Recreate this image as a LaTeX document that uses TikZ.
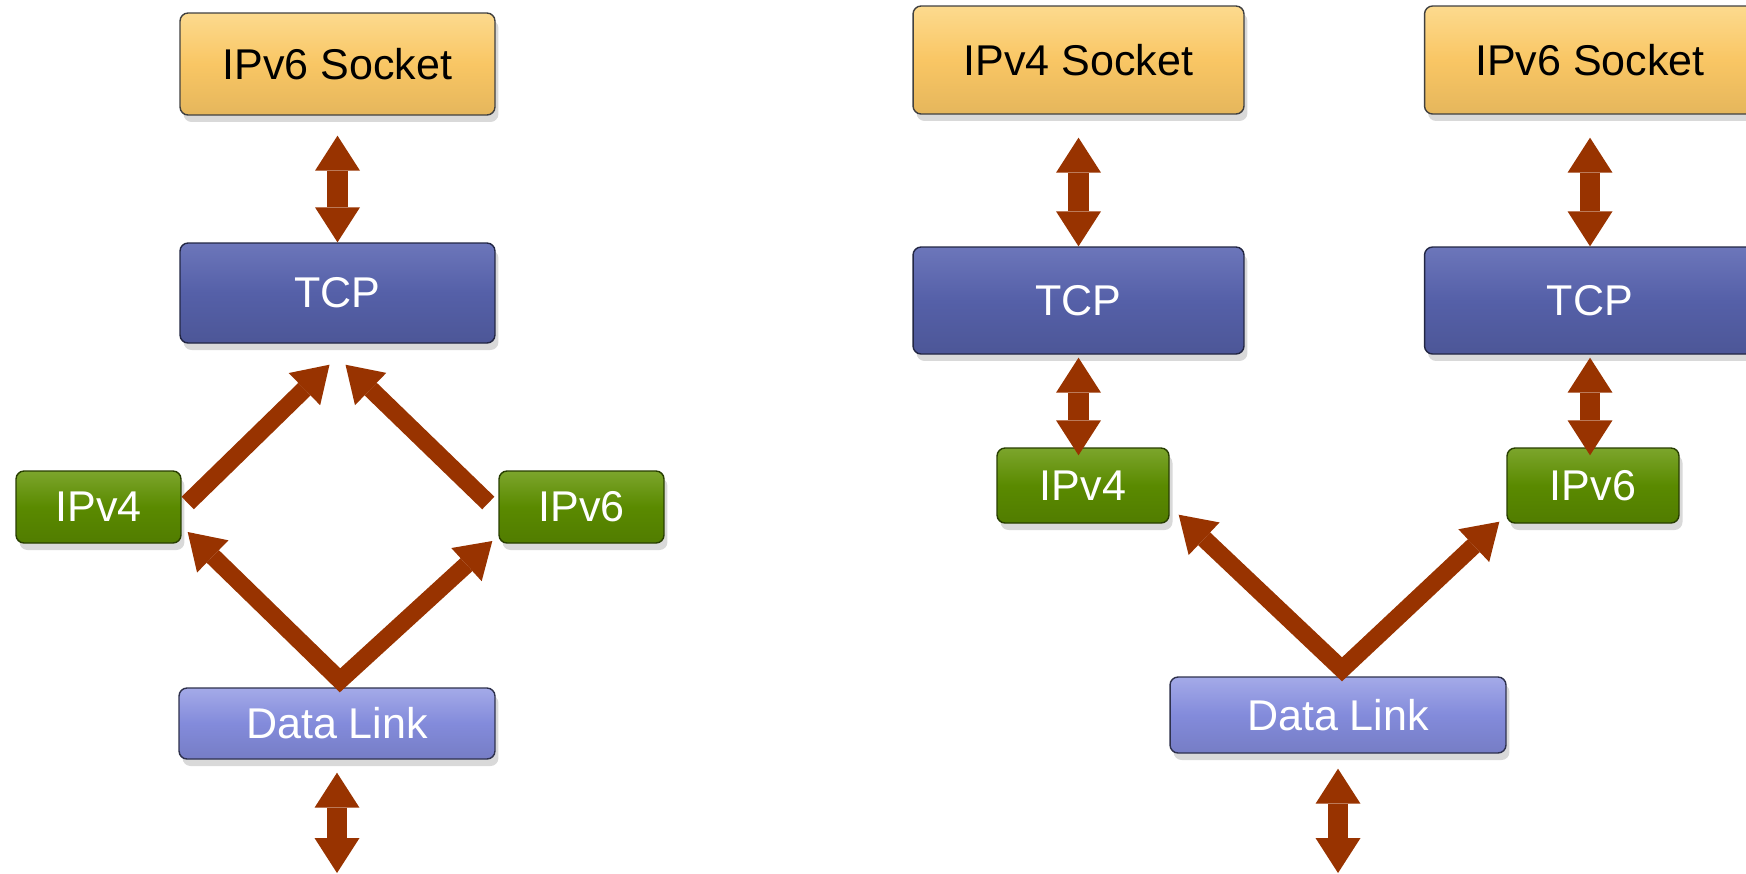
\documentclass[tikz,border=0pt]{standalone}
\usepackage{fontspec}
\setmainfont{Liberation Sans}
\usepackage{tikz}
\usetikzlibrary{calc, positioning, shadows, arrows.meta}
\definecolor{sockfill}{HTML}{F9C664}
\definecolor{socktop}{HTML}{FCDA8E}
\definecolor{tcpfill}{HTML}{5560A8}
\definecolor{tcptop}{HTML}{6C76BA}
\definecolor{ipfill}{HTML}{5A8A00}
\definecolor{iptop}{HTML}{7CA52C}
\definecolor{dlfill}{HTML}{838BDB}
\definecolor{dltop}{HTML}{A4AAE8}
\definecolor{arrowred}{HTML}{983300}
\tikzset{  
    layer/.style ={rectangle, rounded corners=0.16cm, line width=0.8pt, inner sep=0pt, font=\fontsize{24.5}{28}\selectfont, drop shadow={opacity=0.3, shadow xshift=0.07cm, shadow yshift=-0.14cm}}, % common look of every box
    socket/.style ={layer, draw=black!75, top color=socktop, bottom color=sockfill!92!black, middle color=sockfill, text=black, minimum width=6.3cm, minimum height=2.04cm},  
    tcp/.style ={layer, draw=tcpfill!40!black, top color=tcptop, bottom color=tcpfill!90!black, middle color=tcpfill, text=white, minimum width=6.3cm, minimum height=2cm},  
    ip/.style ={layer, draw=ipfill!45!black, top color=iptop, bottom color=ipfill!90!black, middle color=ipfill, text=white, minimum width=3.3cm, minimum height=1.44cm},  
    link/.style ={layer, draw=dlfill!35!black, top color=dltop, bottom color=dlfill!90!black, middle color=dlfill, text=white, minimum width=6.32cm, minimum height=1.42cm},  
    fat/.style = {draw=arrowred, line width=0.41cm, >={Triangle[length=0.7cm, width=0.9cm, line width=0pt]}}, % thick brown arrows
    slant/.style = {fat, line width=0.35cm} % the diagonal ones are a bit thinner
}
\begin{document}
\begin{tikzpicture}[x=0.02cm, y=-0.02cm]
    \path[use as bounding box, clip] (0,0) rectangle (1746,873);
    % left: one stack, both IP versions below TCP
    \node[socket] (sock6L) at (337.5,64) {IPv6 Socket};
    \node[tcp] (tcpL) at (337.5,293) {TCP};
    \node[ip] (ip4L) at (98.5,507) {IPv4};
    \node[ip] (ip6L) at (581.5,507) {IPv6};
    \node[link] (dlL) at (337,723.5) {Data Link};
    \coordinate (botL) at (dlL.south |- 0,873);
    \draw[fat, <->, shorten <=0.4cm] (sock6L) -- (tcpL);
    \draw[slant, ->] ($(ip4L.east)+(6,-4)$) -- ($(tcpL.south)+(-8,21)$);
    \draw[slant, ->] ($(ip6L.west)+(-10,-4)$) -- ($(tcpL.south)+(8,21)$);
    \draw[slant, <->, line join=miter] ($(ip4L.east)+(6,25)$) -- ($(dlL.north)+(3,-7)$) -- ($(ip6L.west)+(-6,34)$);
    \draw[fat, <->, shorten <=0.26cm] (dlL) -- (botL);
    % right: two separate stacks
    \node[socket, minimum width=6.62cm, minimum height=2.16cm] (sock4R) at (1078.5,60) {IPv4 Socket};
    \node[socket, minimum width=6.62cm, minimum height=2.16cm] (sock6R) at (1590,60) {IPv6 Socket};
    \node[tcp, minimum width=6.62cm, minimum height=2.14cm] (tcp4R) at (1078.5,300.5) {TCP};
    \node[tcp, minimum width=6.62cm, minimum height=2.14cm] (tcp6R) at (1590,300.5) {TCP};
    \node[ip, minimum width=3.44cm, minimum height=1.5cm] (ip4R) at (1083,485.5) {IPv4};
    \node[ip, minimum width=3.44cm, minimum height=1.5cm] (ip6R) at (1593,485.5) {IPv6};
    \node[link, minimum width=6.72cm, minimum height=1.52cm] (dlR) at (1338,715) {Data Link};
    \coordinate (botR) at (dlR.south |- 0,873);
    \draw[fat, <->, shorten <=0.46cm] (sock4R) -- (tcp4R);
    \draw[fat, <->, shorten <=0.46cm] (sock6R) -- (tcp6R);
    \draw[fat, <->, shorten <=0.06cm, shorten >=-0.16cm] (tcp4R.south) -- (tcp4R.south |- ip4R.north);
    \draw[fat, <->, shorten <=0.06cm, shorten >=-0.16cm] (tcp6R.south) -- (tcp6R.south |- ip6R.north);
    \draw[slant, <->, line join=miter] ($(ip4R.south east)+(9,-9)$) -- ($(dlR.north)+(4,-7)$) -- ($(ip6R.south west)+(-7,-2)$);
    \draw[fat, <->, shorten <=0.3cm] (dlR) -- (botR);
\end{tikzpicture}
\end{document}
